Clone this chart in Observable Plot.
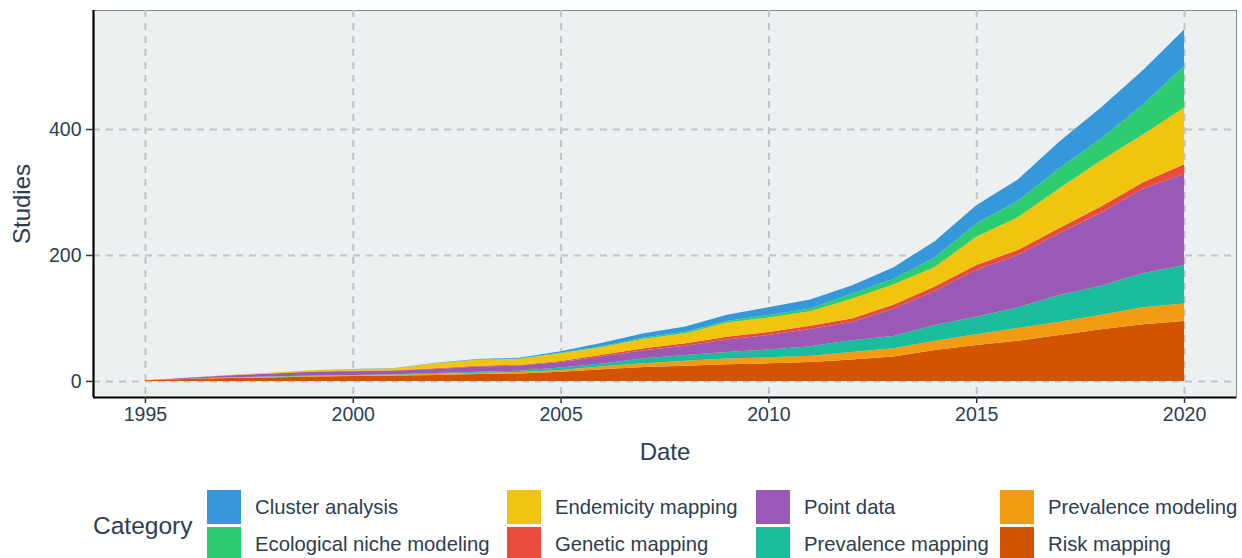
<!DOCTYPE html>
<html>
<head>
<meta charset="utf-8">
<script src="https://cdn.jsdelivr.net/npm/d3@7"></script>
<script src="https://cdn.jsdelivr.net/npm/@observablehq/plot@0.6"></script>
<style>
  html, body { margin: 0; padding: 0; background: white; }
  body { width: 1242px; height: 558px; position: relative; overflow: hidden; font-family: "Liberation Sans", Arial, sans-serif; color: #2C3E50; }
  #chart { position: absolute; left: 0; top: 0; }
  .lg-title { position: absolute; left: 93px; top: 511px; font-size: 24.5px; line-height: 30px; }
  .sw { position: absolute; width: 34px; height: 34px; }
  .lb { position: absolute; font-size: 20.3px; line-height: 24px; white-space: nowrap; }
</style>
</head>
<body>
<div id="chart"></div>
<div class="lg-title" id="lgtitle">Category</div>
<div id="legendItems"></div>
<script>
const years = [1995,1996,1997,1998,1999,2000,2001,2002,2003,2004,2005,2006,2007,2008,2009,2010,2011,2012,2013,2014,2015,2016,2017,2018,2019,2020];

const riskMapping       = [1,3,4.5,5.5,7,8,8.5,9.5,11,12,14.5,18.5,22,24,26.5,28,30,34,39,49,57,64,73,82,90,95];
const prevalenceModeling= [0,0.5,1,1,1,1,1.5,2,2,2,3,5,6,8,9,9.5,10,12,13,15,17,20,21,23,27,28];
const prevalenceMapping = [0,0,0.2,0.5,0.5,0.5,0.6,1,1.5,2,4,4.2,8,9,10.5,12.4,15,18.5,19.5,25,28,33,42.5,46,54,61];
const pointData         = [0,1.5,3,4.5,6,6,6,6.5,8.5,8.5,8.5,11.7,12.7,15,20,23,27.5,29,43,54,74,83,98.5,116,134,145];
const geneticMapping    = [0,0,0.3,0.5,0.5,0.5,0.5,1,1,1,1.5,2.3,3.3,4,4,5,5,5.5,6.5,7,8,8,8,10,10,15];
const endemicityMapping = [0,0,0.5,1,2,2.5,3,8,9.5,9.5,12.5,12,15,15.6,22.6,23,23,31.5,32,31,45,52,63,73,76,90];
const ecoNicheModeling  = [0,0,0,0,0,0.2,0.2,0.5,0.5,0.5,1,1.5,2,2.4,2.4,4,4.5,8,9,15,21,26,32,35,47,66];
const clusterAnalysis   = [0,0,0,0,0,0.3,0.3,0.5,1,1.5,2,5.5,6.6,8.4,10,12,14.5,13,18,26,29,34,42,49,55,58];

// stacking order: bottom to top
const stackOrder = ["Risk mapping","Prevalence modeling","Prevalence mapping","Point data","Genetic mapping","Endemicity mapping","Ecological niche modeling","Cluster analysis"];
const seriesValues = [riskMapping, prevalenceModeling, prevalenceMapping, pointData, geneticMapping, endemicityMapping, ecoNicheModeling, clusterAnalysis];

// legend order (alphabetical)
const legendOrder = ["Cluster analysis","Ecological niche modeling","Endemicity mapping","Genetic mapping","Point data","Prevalence mapping","Prevalence modeling","Risk mapping"];
const colors = {
  "Cluster analysis": "#3498DB",
  "Ecological niche modeling": "#2ECC71",
  "Endemicity mapping": "#F1C40F",
  "Genetic mapping": "#E74C3C",
  "Point data": "#9B59B6",
  "Prevalence mapping": "#1ABC9C",
  "Prevalence modeling": "#F39C12",
  "Risk mapping": "#D35400"
};

const xTicks = [1995,2000,2005,2010,2015,2020];
const yTicks = [0,200,400];
const xDomain = [1993.75, 2021.25];
const yDomain = [-25.5, 589];

const data = [];
stackOrder.forEach((cat, i) => {
  years.forEach((yr, j) => data.push({year: yr, value: seriesValues[i][j], category: cat}));
});

const gridStyle = {stroke: "#BDC3C7", strokeOpacity: 1, strokeWidth: 2, strokeDasharray: "7,6"};

const chart = Plot.plot({
  width: 1242,
  height: 475,
  marginLeft: 93,
  marginRight: 6,
  marginTop: 10,
  marginBottom: 78,
  style: {fontFamily: '"Liberation Sans", Arial, sans-serif', fontSize: "19.5px", color: "#2C3E50", background: "white"},
  x: {domain: xDomain, label: null},
  y: {domain: yDomain, label: null},
  color: {domain: legendOrder, range: legendOrder.map(d => colors[d])},
  marks: [
    Plot.frame({fill: "#ECF0F1", stroke: "#7F8C8D", strokeWidth: 1}),
    Plot.gridX(xTicks, gridStyle),
    Plot.gridY(yTicks, gridStyle),
    Plot.areaY(data, {x: "year", y: "value", fill: "category", order: stackOrder, curve: "linear"}),
    Plot.ruleX([xDomain[0]], {stroke: "black", strokeWidth: 2.2}),
    Plot.ruleY([yDomain[0]], {stroke: "black", strokeWidth: 2.2}),
    Plot.axisX(xTicks, {tickSize: 6, tickPadding: 4, tickFormat: d => String(d), label: null, fontSize: 19.5, stroke: "#333", strokeWidth: 1.5, fill: "#2C3E50"}),
    Plot.axisY(yTicks, {tickSize: 7, tickPadding: 5, label: null, fontSize: 19.5, stroke: "#333", strokeWidth: 1.5, fill: "#2C3E50"}),
    Plot.text(["Date"], {frameAnchor: "bottom", dy: 55, lineAnchor: "middle", textAnchor: "middle", text: d => d, fontSize: 24, fill: "#2C3E50"}),
    Plot.text(["Studies"], {frameAnchor: "left", dx: -71, rotate: -90, textAnchor: "middle", lineAnchor: "middle", text: d => d, fontSize: 24, fill: "#2C3E50"})
  ]
});
document.getElementById("chart").appendChild(chart);

// legend
const colX = [207, 507, 756, 1000];
const rowY = [490, 527];
const items = document.getElementById("legendItems");
legendOrder.forEach((cat, i) => {
  const col = Math.floor(i / 2), row = i % 2;
  const sw = document.createElement("div");
  sw.className = "sw";
  sw.style.left = colX[col] + "px";
  sw.style.top = rowY[row] + "px";
  sw.style.background = colors[cat];
  items.appendChild(sw);
  const lb = document.createElement("div");
  lb.className = "lb";
  lb.style.left = (colX[col] + 48) + "px";
  lb.style.top = (rowY[row] + 5) + "px";
  lb.textContent = cat;
  items.appendChild(lb);
});
</script>
</body>
</html>
